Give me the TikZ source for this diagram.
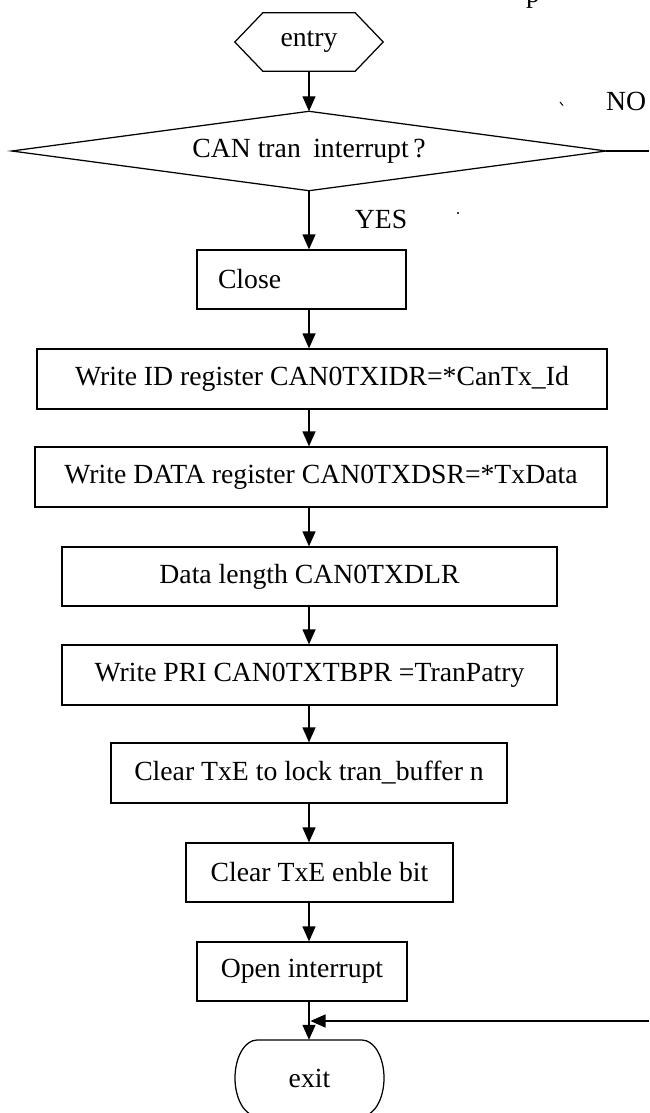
\documentclass[tikz,border=0pt]{standalone}
\usepackage{fontspec}
\setmainfont{Liberation Serif}
\usetikzlibrary{arrows.meta,calc}
\begin{document}
\begin{tikzpicture}[x=1pt,y=-1pt,
  every node/.style={font=\fontsize{27.7}{32}\selectfont, inner sep=0pt},
  stroke/.style={line width=1.25pt},
  procbox/.style={draw, stroke, minimum height=60pt, inner sep=0pt},
  arr/.style={stroke, -{Triangle[length=15pt,width=13pt]}}]
  \useasboundingbox (0,0) rectangle (649,1113);
  \clip (0,0) rectangle (649,1113);

  % vertical flow line
  \coordinate (spine) at (309,0);

  % entry terminal (hexagon)
  \node[minimum width=148pt, minimum height=58pt] (entry) at (309,42) {entry};
  \draw[stroke] (entry.west) -- ($(entry.north west)+(28,0)$) -- ($(entry.north east)+(-28,0)$)
    -- (entry.east) -- ($(entry.south east)+(-28,0)$) -- ($(entry.south west)+(28,0)$) -- cycle;

  % decision
  \node[minimum width=594pt, minimum height=79pt] (dec) at (309,151) {CAN tran\hspace{0.45em}interrupt\,?};
  \draw[stroke] (dec.north) -- (dec.east) -- (dec.south) -- (dec.west) -- cycle;

  % process steps
  \node[procbox, minimum width=209pt, minimum height=59pt, text width=167pt, align=left, inner xsep=21pt]
    (close) at (301.5,279.5) {Close};
  \node[procbox, minimum width=570pt] (wid)  at (322,379) {Write ID register CAN0TXIDR=*CanTx\_Id};
  \node[procbox, minimum width=572pt] (wdat) at (321,477) {Write DATA register CAN0TXDSR=*TxData};
  \node[procbox, minimum width=495pt, minimum height=59pt] (dlen) at (309.5,576.5) {Data length CAN0TXDLR};
  \node[procbox, minimum width=495pt] (wpri) at (309.5,675) {Write PRI CAN0TXTBPR =TranPatry};
  \node[procbox, minimum width=396pt] (clk)  at (309,773) {Clear TxE to lock tran\_buffer n};
  \node[procbox, minimum width=267pt, minimum height=59pt] (cen) at (319.5,872.5) {Clear TxE enble bit};
  \node[procbox, minimum width=210pt, minimum height=59pt] (open) at (302,971.5) {Open interrupt};

  % exit terminal
  \node[minimum width=149pt, minimum height=76pt] (exit) at (309.5,1078) {exit};
  \draw[stroke] (257,1040) -- (362,1040)
    .. controls (374.15,1040) and (384,1057) .. (384,1078)
    .. controls (384,1099) and (374.15,1116) .. (362,1116)
    -- (257,1116)
    .. controls (244.85,1116) and (235,1099) .. (235,1078)
    .. controls (235,1057) and (244.85,1040) .. (257,1040) -- cycle;

  % labels
  \node at (381,219) {YES};
  \node at (626,101) {NO};
  \node[anchor=base] (ptxt) at (533,3) {p};
  \draw[line width=1pt] (560,102) -- (563,105.5);
  \fill (458,213) circle (1.1);

  % connectors
  \draw[arr] (entry.south -| spine) -- (dec.north -| spine);
  \draw[arr] (dec.south -| spine) -- (close.north -| spine);
  \draw[arr] (close.south -| spine) -- (wid.north -| spine);
  \draw[arr] (wid.south -| spine) -- (wdat.north -| spine);
  \draw[arr] (wdat.south -| spine) -- (dlen.north -| spine);
  \draw[arr] (dlen.south -| spine) -- (wpri.north -| spine);
  \draw[arr] (wpri.south -| spine) -- (clk.north -| spine);
  \draw[arr] (clk.south -| spine) -- (cen.north -| spine);
  \draw[arr] (cen.south -| spine) -- (open.north -| spine);
  \draw[arr] (open.south -| spine) -- (exit.north -| spine);

  % NO branch leaves to the right and returns above exit
  \coordinate (noEnd) at (649,151);
  \draw[stroke] (dec.east) -- (noEnd);
  \coordinate (backStart) at (649,1021);
  \coordinate (join) at (310.5,1021);
  \draw[arr] (backStart) -- (join);
\end{tikzpicture}
\end{document}
